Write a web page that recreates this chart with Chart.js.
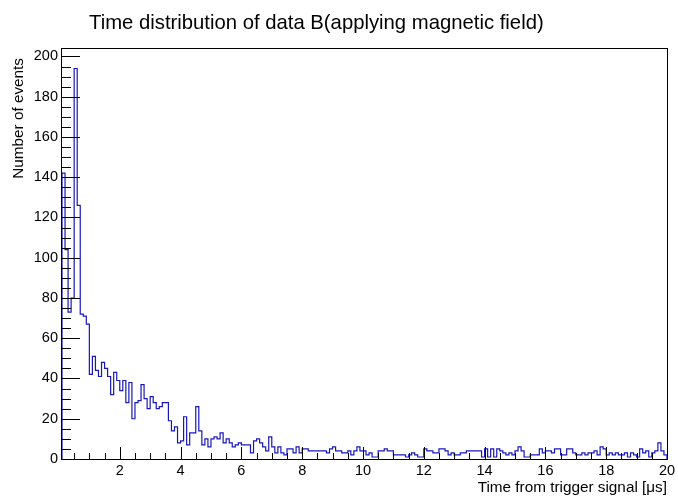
<!DOCTYPE html>
<html>
<head>
<meta charset="utf-8">
<script src="https://cdn.jsdelivr.net/npm/chart.js@4.4.1/dist/chart.umd.min.js"></script>
<style>
  body { margin: 0; background: #fff; }
  #wrap { width: 678px; height: 497px; }
</style>
</head>
<body>
<div id="wrap"><canvas id="histo" width="678" height="497"></canvas></div>
<script>
// histogram: 0.1 us bins from 0.1 to 20 us
var binLow = 0.1;
var binWidth = 0.1;
var counts = [
  142, 104, 73, 80, 194, 126, 72, 71, 67,
  42, 51, 44, 41, 48, 45, 41, 32, 43, 39,
  34, 39, 28, 38, 20, 28, 29, 37, 30, 25,
  31, 28, 25, 26, 28, 28, 19, 14, 16, 8,
  9, 21, 7, 13, 13, 26, 14, 7, 10, 6,
  10, 11, 10, 13, 8, 10, 8, 6, 7, 8,
  7, 7, 7, 3, 9, 10, 8, 6, 4, 11,
  6, 3, 6, 3, 2, 5, 5, 3, 6, 3,
  5, 5, 4, 4, 4, 4, 4, 4, 3, 5,
  6, 4, 4, 3, 3, 4, 2, 4, 6, 4,
  4, 2, 3, 1, 1, 4, 4, 5, 4, 4,
  2, 2, 2, 2, 1, 2, 3, 2, 1, 1,
  5, 4, 4, 3, 3, 5, 5, 4, 2, 3,
  2, 2, 3, 3, 4, 4, 4, 4, 4, 1,
  5, 1, 5, 1, 5, 4, 3, 2, 3, 2,
  4, 6, 4, 1, 1, 2, 2, 2, 5, 3,
  4, 4, 3, 5, 5, 2, 2, 5, 5, 3,
  2, 2, 3, 2, 3, 3, 4, 2, 6, 5,
  2, 3, 2, 3, 2, 2, 3, 1, 3, 2,
  1, 5, 3, 4, 1, 3, 4, 8, 4, 2
];
var xTicks = [2, 4, 6, 8, 10, 12, 14, 16, 18, 20];
var yTicks = [0, 20, 40, 60, 80, 100, 120, 140, 160, 180, 200];
var xMin = 0.1, xMax = 20;
var yMax = 194 * 1.05;

var title = "Time distribution of data B(applying magnetic field)";
var xTitle = "Time from trigger signal [\u03bcs]";
var yTitle = "Number of events";

// outline points, starting and ending on the baseline like ROOT does
var pts = [{ x: binLow, y: 0 }];
for (var i = 0; i < counts.length; i++) {
  pts.push({ x: binLow + i * binWidth, y: counts[i] });
}
pts.push({ x: xMax, y: counts[counts.length - 1] });
pts.push({ x: xMax, y: 0 });

var FONT = "'Liberation Sans', Arial, Helvetica, sans-serif";

var rootFrame = {
  id: 'rootFrame',
  afterDraw: function (chart) {
    var ctx = chart.ctx, a = chart.chartArea;
    var xs = chart.scales.x, ys = chart.scales.y;
    ctx.save();
    ctx.strokeStyle = '#000';
    ctx.lineWidth = 1;
    ctx.strokeRect(Math.round(a.left) - 0.5, Math.round(a.top) - 0.5,
      Math.round(a.right - a.left) + 1, Math.round(a.bottom - a.top) + 1);

    // x ticks (inward), major every 2, minor every 0.5
    ctx.beginPath();
    for (var v = 0.5; v <= xMax + 0.001; v += 0.5) {
      var px = Math.round(xs.getPixelForValue(v)) + 0.5;
      var len = (Math.abs(v / 2 - Math.round(v / 2)) < 0.01) ? 12 : 6;
      ctx.moveTo(px, a.bottom);
      ctx.lineTo(px, a.bottom - len);
    }
    // y ticks, major every 20, minor every 5
    for (var w = 0; w <= 200; w += 5) {
      var py = Math.round(ys.getPixelForValue(w)) + 0.5;
      var l2 = (w % 20 === 0) ? 18 : 9;
      ctx.moveTo(a.left, py);
      ctx.lineTo(a.left + l2, py);
    }
    ctx.stroke();

    ctx.fillStyle = '#000';
    ctx.font = '14.5px ' + FONT;
    ctx.textAlign = 'center';
    ctx.textBaseline = 'top';
    xTicks.forEach(function (t) {
      ctx.fillText(String(t), xs.getPixelForValue(t), a.bottom + 5);
    });
    ctx.textAlign = 'right';
    ctx.textBaseline = 'middle';
    yTicks.forEach(function (t) {
      ctx.fillText(String(t), a.left - 4, ys.getPixelForValue(t));
    });

    // axis titles
    ctx.font = '15.3px ' + FONT;
    ctx.textAlign = 'right';
    ctx.textBaseline = 'alphabetic';
    ctx.fillText(xTitle, a.right, 492);
    ctx.save();
    ctx.translate(23, a.top);
    ctx.rotate(-Math.PI / 2);
    ctx.textAlign = 'right';
    ctx.fillText(yTitle, -9, 0);
    ctx.restore();

    // main title
    ctx.font = '20.3px ' + FONT;
    ctx.textAlign = 'left';
    ctx.fillText(title, 89, 29);
    ctx.restore();
  }
};

new Chart(document.getElementById('histo'), {
  type: 'line',
  data: {
    datasets: [{
      data: pts,
      stepped: 'before',
      borderColor: '#1818b8',
      borderWidth: 1.2,
      pointRadius: 0,
      fill: false
    }]
  },
  options: {
    responsive: false,
    animation: false,
    layout: { padding: { left: 62, top: 49, right: 11, bottom: 38 } },
    plugins: {
      legend: { display: false },
      tooltip: { enabled: false },
      title: { display: false }
    },
    scales: {
      x: { type: 'linear', min: xMin, max: xMax, display: false },
      y: { type: 'linear', min: 0, max: yMax, display: false }
    }
  },
  plugins: [rootFrame]
});
</script>
</body>
</html>
